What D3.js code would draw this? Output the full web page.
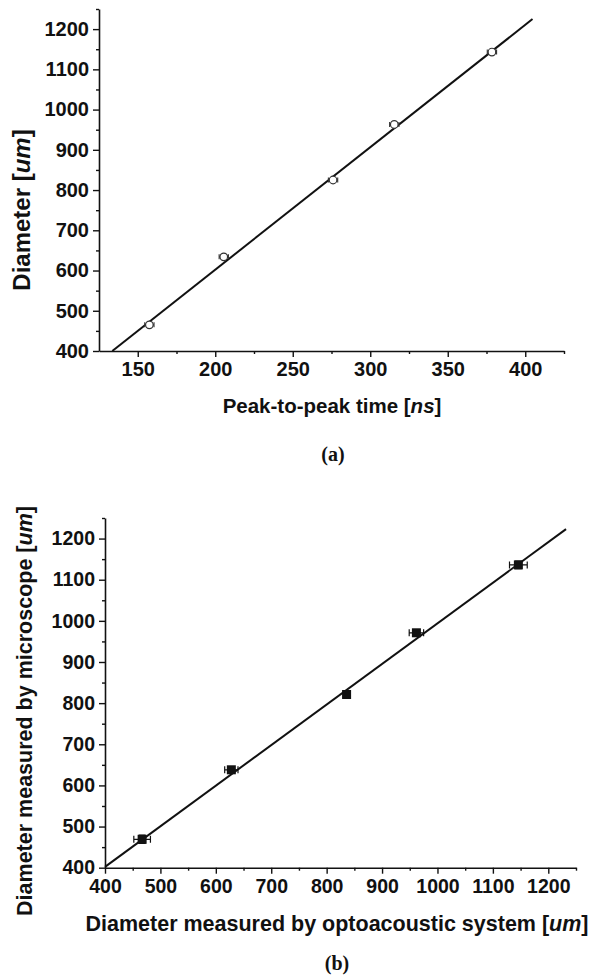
<!DOCTYPE html>
<html>
<head>
<meta charset="utf-8">
<script src="https://cdn.jsdelivr.net/npm/d3@7/dist/d3.min.js"></script>
<style>
  html, body { margin: 0; padding: 0; background: #fff; }
  svg text { font-family: "Liberation Sans", Arial, sans-serif; font-weight: bold; fill: #111; }
</style>
</head>
<body>
<svg id="fig" width="590" height="979"></svg>
<script>
// panel (a): diameter vs peak-to-peak time
const timeA = [157.5, 205.5, 276, 315.5, 378.5];
const diamA = [465, 634, 825, 963, 1143];
const timeErrA = [3, 3, 3, 3, 3];
const fitA = [{ x: 133.6, y: 400 }, { x: 404.7, y: 1225 }];
const ticksXA = [150, 200, 250, 300, 350, 400];
const minorXA = [175, 225, 275, 325, 375, 425];
const ticksYA = [400, 500, 600, 700, 800, 900, 1000, 1100, 1200];
const minorYA = [450, 550, 650, 750, 850, 950, 1050, 1150, 1250];

// panel (b): microscope vs optoacoustic
const optoB = [467, 628, 836, 962, 1146];
const microB = [469, 638, 821, 971, 1136];
const optoErrB = [15, 12, 6, 13, 16];
const microErrB = [10, 6, 6, 6, 9];
const fitB = [{ x: 400, y: 402 }, { x: 1232, y: 1223 }];
const ticksB = [400, 500, 600, 700, 800, 900, 1000, 1100, 1200];
const minorB = [450, 550, 650, 750, 850, 950, 1050, 1150, 1250];

const svg = d3.select("#fig");
const ink = "#111";
const fmt = d3.format("d");

function drawAxes(g, x, y, o) {
  const xAxis = g.append("g").attr("transform", "translate(0," + y.range()[0] + ")");
  xAxis.call(d3.axisBottom(x).tickValues(o.xTicks).tickFormat(fmt).tickSize(6).tickSizeOuter(0).tickPadding(5));
  xAxis.append("g").call(d3.axisBottom(x).tickValues(o.xMinor).tickSize(3).tickFormat(""))
    .call(s => s.select(".domain").remove());

  const yAxis = g.append("g").attr("transform", "translate(" + x.range()[0] + ",0)");
  yAxis.call(d3.axisLeft(y).tickValues(o.yTicks).tickFormat(fmt).tickSize(6).tickSizeOuter(0).tickPadding(4));
  yAxis.append("g").call(d3.axisLeft(y).tickValues(o.yMinor).tickSize(3).tickFormat(""))
    .call(s => s.select(".domain").remove());

  g.selectAll(".domain").attr("stroke", ink).attr("stroke-width", 1.6);
  g.selectAll(".tick line").attr("stroke", ink).attr("stroke-width", 1.4);
  g.selectAll(".tick text")
    .attr("font-size", o.tickSize)
    .attr("fill", ink);
}

function fitLine(g, x, y, pts) {
  g.append("path")
    .datum(pts)
    .attr("fill", "none")
    .attr("stroke", ink)
    .attr("stroke-width", 2)
    .attr("d", d3.line().x(d => x(d.x)).y(d => y(d.y)));
}

function yTitle(g, cx, cy, size, main, unit) {
  const t = g.append("text")
    .attr("transform", "translate(" + cx + "," + cy + ") rotate(-90)")
    .attr("text-anchor", "middle")
    .attr("font-size", size);
  t.append("tspan").text(main + " [");
  t.append("tspan").attr("font-style", "italic").text(unit);
  t.append("tspan").text("]");
}

function xTitle(g, cx, cy, size, main, unit) {
  const t = g.append("text")
    .attr("x", cx).attr("y", cy)
    .attr("text-anchor", "middle")
    .attr("font-size", size);
  t.append("tspan").text(main + " [");
  t.append("tspan").attr("font-style", "italic").text(unit);
  t.append("tspan").text("]");
}

function caption(g, cx, cy, s) {
  g.append("text")
    .attr("x", cx).attr("y", cy)
    .attr("text-anchor", "middle")
    .style("font-family", "'Liberation Serif', 'Times New Roman', serif")
    .attr("font-size", 20)
    .text(s);
}

// ---- panel (a)
const xA = d3.scaleLinear().domain([125, 425]).range([99, 564]);
const yA = d3.scaleLinear().domain([400, 1250]).range([351, 9]);
const gA = svg.append("g");
drawAxes(gA, xA, yA, { xTicks: ticksXA, xMinor: minorXA, yTicks: ticksYA, yMinor: minorYA, tickSize: 20 });
fitLine(gA, xA, yA, fitA);

const ptsA = timeA.map((t, i) => ({ x: t, y: diamA[i], e: timeErrA[i] }));
const mA = gA.append("g").selectAll("g").data(ptsA).join("g");
mA.append("path")
  .attr("fill", "none").attr("stroke", "#333").attr("stroke-width", 1.1)
  .attr("d", d => {
    const x0 = xA(d.x - d.e), x1 = xA(d.x + d.e), yy = yA(d.y);
    return "M" + x0 + "," + yy + "H" + x1 +
      "M" + x0 + "," + (yy - 2.5) + "V" + (yy + 2.5) +
      "M" + x1 + "," + (yy - 2.5) + "V" + (yy + 2.5);
  });
mA.append("circle")
  .attr("cx", d => xA(d.x)).attr("cy", d => yA(d.y))
  .attr("r", 3.8)
  .attr("fill", "#fff").attr("stroke", "#333").attr("stroke-width", 1.2);

yTitle(gA, 30, 210, 24, "Diameter", "um");
xTitle(gA, 332, 413, 20.5, "Peak-to-peak time", "ns");
caption(gA, 333, 461, "(a)");

// ---- panel (b)
const xB = d3.scaleLinear().domain([400, 1250]).range([105, 576]);
const yB = d3.scaleLinear().domain([400, 1250]).range([867.7, 518]);
const gB = svg.append("g");
drawAxes(gB, xB, yB, { xTicks: ticksB, xMinor: minorB, yTicks: ticksB, yMinor: minorB, tickSize: 19.5 });
fitLine(gB, xB, yB, fitB);

const ptsB = optoB.map((v, i) => ({ x: v, y: microB[i], ex: optoErrB[i], ey: microErrB[i] }));
const mB = gB.append("g").selectAll("g").data(ptsB).join("g");
mB.append("path")
  .attr("fill", "none").attr("stroke", ink).attr("stroke-width", 1.2)
  .attr("d", d => {
    const cx = xB(d.x), cy = yB(d.y);
    const x0 = xB(d.x - d.ex), x1 = xB(d.x + d.ex);
    const y0 = yB(d.y + d.ey), y1 = yB(d.y - d.ey);
    return "M" + x0 + "," + cy + "H" + x1 +
      "M" + x0 + "," + (cy - 3.5) + "V" + (cy + 3.5) +
      "M" + x1 + "," + (cy - 3.5) + "V" + (cy + 3.5) +
      "M" + cx + "," + y0 + "V" + y1 +
      "M" + (cx - 3.5) + "," + y0 + "H" + (cx + 3.5) +
      "M" + (cx - 3.5) + "," + y1 + "H" + (cx + 3.5);
  });
mB.append("rect")
  .attr("x", d => xB(d.x) - 4.5).attr("y", d => yB(d.y) - 4.5)
  .attr("width", 9).attr("height", 9)
  .attr("fill", ink);

yTitle(gB, 32, 711, 21.5, "Diameter measured by microscope", "um");
xTitle(gB, 337, 931, 21.5, "Diameter measured by optoacoustic system", "um");
caption(gB, 337, 970, "(b)");
</script>
</body>
</html>
